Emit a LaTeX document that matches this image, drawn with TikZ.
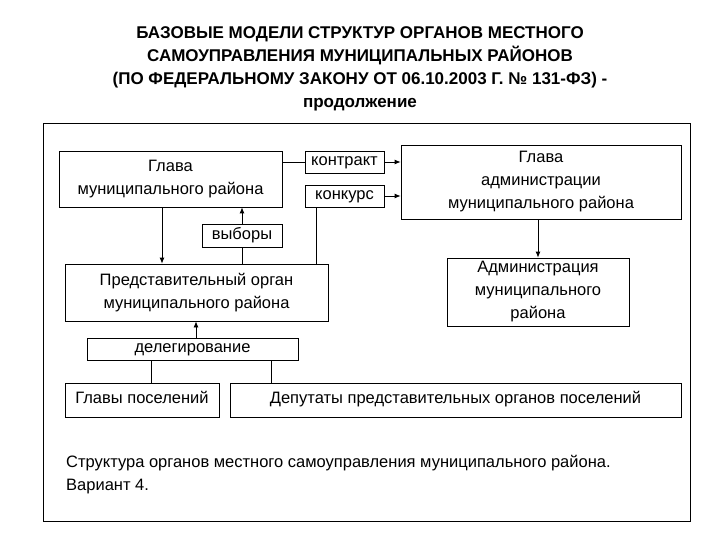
\documentclass[tikz,border=0pt]{standalone}
\usepackage{fontspec}
\setmainfont{Liberation Sans}
\usetikzlibrary{arrows.meta}
\begin{document}
\begin{tikzpicture}[x=1pt,y=1pt,
  bx/.style={draw,line width=0.8pt,align=center,inner sep=1pt,font=\fontsize{16.5}{23}\selectfont},
  sb/.style={draw,line width=0.8pt,inner sep=1pt,text height=11pt,text depth=3.5pt,font=\fontsize{16.5}{23}\selectfont},
  ln/.style={line width=0.8pt},
  ar/.style={line width=0.8pt,-{Latex[length=6pt,width=5pt]}}]
\useasboundingbox (0,0) rectangle (720,-540);
\node[font=\bfseries\fontsize{17}{23}\selectfont,align=center] (title) at (360,-69)
 {БАЗОВЫЕ МОДЕЛИ СТРУКТУР ОРГАНОВ МЕСТНОГО\\САМОУПРАВЛЕНИЯ МУНИЦИПАЛЬНЫХ РАЙОНОВ\\(ПО ФЕДЕРАЛЬНОМУ ЗАКОНУ ОТ 06.10.2003 Г. № 131-ФЗ) -\\продолжение};
\draw[line width=0.8pt] (43,-123) rectangle (690,-521);
\node[bx,minimum width=223,minimum height=56] (glava) at (170.5,-179) {Глава\\муниципального района};
\node[sb,minimum width=79,minimum height=22] (kontrakt) at (344.5,-162) {контракт};
\node[sb,minimum width=79,minimum height=22] (konkurs) at (344.5,-196) {конкурс};
\node[bx,minimum width=280,minimum height=74] (admin) at (541,-182) {Глава\\администрации\\муниципального района};
\node[sb,minimum width=80,minimum height=23] (vybory) at (242,-235.5) {выборы};
\node[bx,minimum width=263,minimum height=57] (pred) at (196.5,-292.5) {Представительный орган\\муниципального района};
\node[bx,minimum width=182,minimum height=68] (adm2) at (538,-292) {Администрация\\муниципального\\района};
\node[sb,minimum width=211,minimum height=22] (deleg) at (192.5,-349) {делегирование};
\node[sb,minimum width=154,minimum height=34] (glp) at (142,-400) {Главы поселений};
\node[sb,minimum width=451,minimum height=34] (dep) at (455.5,-400) {Депутаты представительных органов поселений};
\node[anchor=north west,align=left,font=\fontsize{16.5}{23}\selectfont,inner sep=0] (cap) at (66,-455)
 {Структура органов местного самоуправления муниципального района.\\Вариант 4.};
\coordinate (c1) at (162,0);
\coordinate (c2) at (242,0);
\coordinate (c3) at (316,0);
\coordinate (c4) at (538,0);
\coordinate (c5) at (196,0);
\coordinate (c6) at (151,0);
\coordinate (c7) at (271,0);
\draw[ln] (kontrakt.west -| glava.east) -- (kontrakt.west);
\draw[ar] (kontrakt.east) -- (kontrakt.east -| admin.west);
\draw[ar] (konkurs.east) -- (konkurs.east -| admin.west);
\draw[ln] (c3 |- pred.north) -- (c3 |- konkurs.south);
\draw[ar] (c1 |- glava.south) -- (c1 |- pred.north);
\draw[ln] (c2 |- pred.north) -- (vybory.south);
\draw[ar] (vybory.north) -- (c2 |- glava.south);
\draw[ar] (c4 |- admin.south) -- (c4 |- adm2.north);
\draw[ar] (c5 |- deleg.north) -- (c5 |- pred.south);
\draw[ln] (c6 |- glp.north) -- (c6 |- deleg.south);
\draw[ln] (c7 |- dep.north) -- (c7 |- deleg.south);
\end{tikzpicture}
\end{document}
